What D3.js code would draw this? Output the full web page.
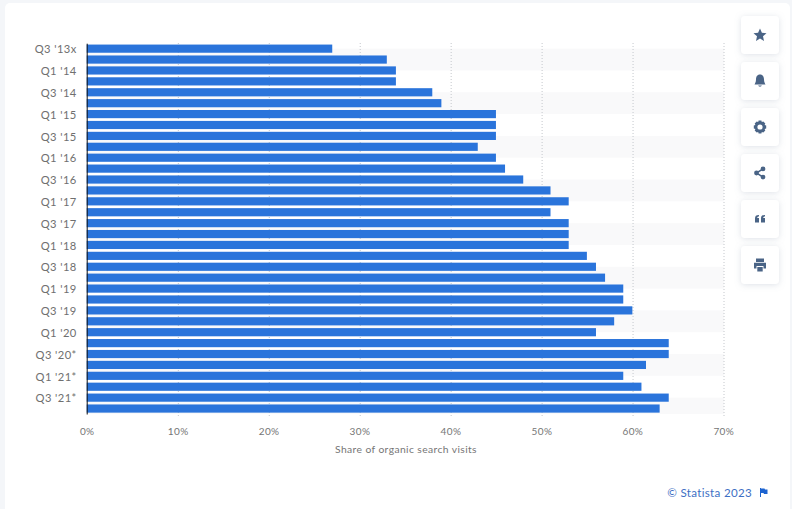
<!DOCTYPE html>
<html><head><meta charset="utf-8">
<script src="https://cdn.jsdelivr.net/npm/d3@7"></script>
<style>
html,body{margin:0;padding:0;background:#f4f6f9;overflow:hidden}
svg{display:block}
text{font-family:Lato,"Open Sans",sans-serif}
</style></head><body><svg id="c" width="792" height="509"></svg>
<script>
const categories=["Q3 '13x","Q4 '13","Q1 '14","Q2 '14","Q3 '14","Q4 '14","Q1 '15","Q2 '15","Q3 '15","Q4 '15","Q1 '16","Q2 '16","Q3 '16","Q4 '16","Q1 '17","Q2 '17","Q3 '17","Q4 '17","Q1 '18","Q2 '18","Q3 '18","Q4 '18","Q1 '19","Q2 '19","Q3 '19","Q4 '19","Q1 '20","Q2 '20","Q3 '20*","Q4 '20*","Q1 '21*","Q2 '21*","Q3 '21*","Q4 '21*"];
const shares=[27,33,34,34,38,39,45,45,45,43,45,46,48,51,53,51,53,53,53,55,56,57,59,59,60,58,56,64,64,61.5,59,61,64,63];
const xTicks=[0,10,20,30,40,50,60,70];
const xTitle="Share of organic search visits";
const credit="© Statista 2023";
const icons=["star","bell","gear","share","quote","print"];

const svg=d3.select("#c");
const defs=svg.append("defs");
const f=defs.append("filter").attr("id","sh").attr("x","-30%").attr("y","-30%").attr("width","160%").attr("height","160%");
f.append("feDropShadow").attr("dx",0).attr("dy",1).attr("stdDeviation",3).attr("flood-color","#8a98ad").attr("flood-opacity",0.28);

svg.append("rect").attr("x",5).attr("y",3).attr("width",785).attr("height",520).attr("rx",5).attr("fill","#fff");

const x=d3.scaleLinear().domain([0,70]).range([86.7,723.3]);
const y=d3.scaleBand().domain(categories).range([43.2,414]).paddingInner(0.25).paddingOuter(0.125);
const plotTop=43,plotBottom=414;

// alternating background stripes
const stripes=categories.filter((d,i)=>i%4===1);
svg.append("g").selectAll("rect").data(stripes).join("rect")
  .attr("x",x(0)).attr("width",x(70)-x(0)+0.7)
  .attr("y",d=>y(d)+y.bandwidth()/2-10.9)
  .attr("height",d=>Math.min(21.8,plotBottom-(y(d)+y.bandwidth()/2-10.9)))
  .attr("fill","#f9f9fa");

// vertical grid
svg.append("g").selectAll("line").data(xTicks.slice(1)).join("line")
  .attr("x1",d=>x(d)+0.7).attr("x2",d=>x(d)+0.7).attr("y1",plotTop).attr("y2",plotBottom+4)
  .attr("stroke","#c4c7cc").attr("stroke-width",1).attr("stroke-dasharray","1,2");

// bars
svg.append("g").selectAll("rect").data(categories).join("rect")
  .attr("x",x(0)).attr("y",d=>y(d))
  .attr("width",(d,i)=>x(shares[i])-x(0)).attr("height",y.bandwidth())
  .attr("fill","#2a74db");

// axes
const gy=svg.append("g").attr("transform",`translate(${x(0)},0)`)
  .call(d3.axisLeft(y).tickValues(categories.filter((d,i)=>i%2===0)).tickSize(0).tickPadding(10));
gy.select(".domain").attr("stroke","#111").attr("stroke-width",1);
gy.selectAll("text").attr("font-size",11.2).attr("fill","#6f6f6f").attr("dy","0.42em").style("letter-spacing","0.4px");

const gx=svg.append("g").attr("transform",`translate(0,${plotBottom})`)
  .call(d3.axisBottom(x).tickValues(xTicks).tickFormat(d=>d+"%").tickSize(0).tickPadding(12));
gx.select(".domain").remove();
gx.selectAll("text").attr("font-size",10).attr("fill","#757575").style("letter-spacing","0.4px").attr("dy","0.85em");

svg.append("text").attr("x",406).attr("y",453).attr("text-anchor","middle")
  .attr("font-size",10.3).attr("fill","#757575").style("letter-spacing","0.4px").text(xTitle);

svg.append("text").attr("x",752).attr("y",497).attr("text-anchor","end")
  .attr("font-size",11.6).attr("fill","#3e6fc4").style("letter-spacing","0.3px").text(credit);
svg.append("path").attr("transform","translate(760,488)")
  .attr("d","M0,0H1V9H0Z M1,0.5H4.5L5,1.5H7.5V6H4L3.5,5H1Z").attr("fill","#1c63d0");

// toolbar
const iconPaths={
 star:"M0,-6.5L1.9,-2.2L6.5,-1.8L3,1.3L4,5.9L0,3.5L-4,5.9L-3,1.3L-6.5,-1.8L-1.9,-2.2Z",
 bell:"M0,-6.5C3,-6.5 4,-4 4,-1.5C4,1 5,2.5 5.5,3.5H-5.5C-5,2.5 -4,1 -4,-1.5C-4,-4 -3,-6.5 0,-6.5Z M-1.8,4.5H1.8C1.5,6 -1.5,6 -1.8,4.5Z",
 gear:"M-1.4,-6.5H1.4L1.8,-4.9L3.3,-5.6L5.3,-3.6L4.6,-2.1L6.2,-1.4V1.4L4.6,2.1L5.3,3.6L3.3,5.6L1.8,4.9L1.4,6.5H-1.4L-1.8,4.9L-3.3,5.6L-5.3,3.6L-4.6,2.1L-6.2,1.4V-1.4L-4.6,-2.1L-5.3,-3.6L-3.3,-5.6L-1.8,-4.9Z M0,-2.6A2.6,2.6 0 1 0 0,2.6A2.6,2.6 0 1 0 0,-2.6Z",
 share:"M3,-6.5A2.4,2.4 0 1 1 3,-1.7A2.4,2.4 0 1 1 3,-6.5Z M-3.5,-2.4A2.4,2.4 0 1 1 -3.5,2.4A2.4,2.4 0 1 1 -3.5,-2.4Z M3,1.7A2.4,2.4 0 1 1 3,6.5A2.4,2.4 0 1 1 3,1.7Z",
 quote:"M-5,-0.5C-5,-3 -4,-4 -1,-4V-2.6C-2.3,-2.6 -2.8,-2 -2.8,-1H-1V3.5H-5Z M1,-0.5C1,-3 2,-4 5,-4V-2.6C3.7,-2.6 3.2,-2 3.2,-1H5V3.5H1Z",
 print:"M-4,-6.5H4V-3H-4Z M-6,-2.2H6V3.5H3.5V1H-3.5V3.5H-6Z M-2.7,2H2.7V6.5H-2.7Z"
};
const btn=svg.append("g").selectAll("g").data(icons).join("g")
  .attr("transform",(d,i)=>`translate(760,${35+i*46})`);
btn.append("rect").attr("x",-19).attr("y",-19).attr("width",38).attr("height",38).attr("rx",4)
  .attr("fill","#fff").attr("filter","url(#sh)");
btn.filter(d=>d==="share").append("path").attr("d","M3,-4.1L-3.5,0L3,4.1").attr("fill","none").attr("stroke","#4a6486").attr("stroke-width",1.5);
btn.append("path").attr("d",d=>iconPaths[d]).attr("fill","#4a6486").attr("fill-rule","evenodd");
</script></body></html>
